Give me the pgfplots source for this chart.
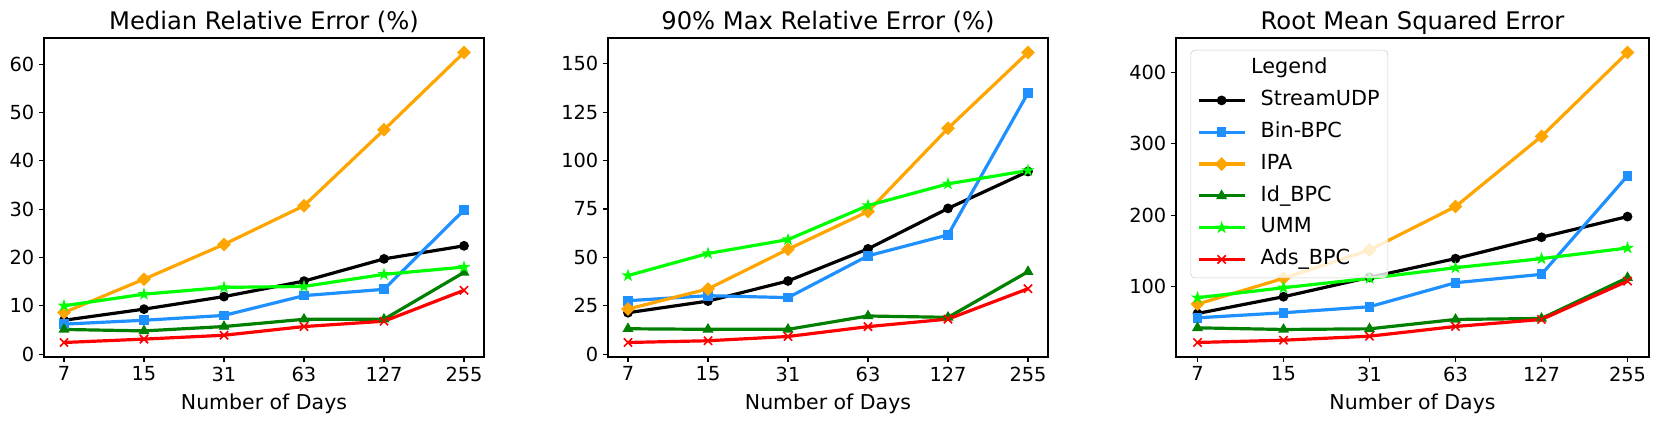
\documentclass[border=0pt]{standalone}
\usepackage{fontspec}
\setmainfont{DejaVu Sans}
\usepackage{pgfplots}
\pgfplotsset{compat=1.18}
\definecolor{cBin}{RGB}{30,144,255}
\definecolor{cIPA}{RGB}{255,165,0}
\definecolor{cId}{RGB}{0,128,0}
\definecolor{cUMM}{RGB}{0,255,0}
\definecolor{cAds}{RGB}{255,0,0}
\pgfdeclareplotmark{fstar}{%
  \pgfpathmoveto{\pgfqpointpolar{90}{\pgfplotmarksize}}%
  \pgfpathlineto{\pgfqpointpolar{126}{0.382\pgfplotmarksize}}%
  \pgfpathlineto{\pgfqpointpolar{162}{\pgfplotmarksize}}%
  \pgfpathlineto{\pgfqpointpolar{198}{0.382\pgfplotmarksize}}%
  \pgfpathlineto{\pgfqpointpolar{234}{\pgfplotmarksize}}%
  \pgfpathlineto{\pgfqpointpolar{270}{0.382\pgfplotmarksize}}%
  \pgfpathlineto{\pgfqpointpolar{306}{\pgfplotmarksize}}%
  \pgfpathlineto{\pgfqpointpolar{342}{0.382\pgfplotmarksize}}%
  \pgfpathlineto{\pgfqpointpolar{18}{\pgfplotmarksize}}%
  \pgfpathlineto{\pgfqpointpolar{54}{0.382\pgfplotmarksize}}%
  \pgfpathclose
  \pgfusepathqfillstroke
}
\pgfplotsset{
  myaxis/.style={
    width=4.4in, height=3.19in, scale only axis,
    xmin=-0.25, xmax=5.25,
    xtick={0,1,2,3,4,5}, xticklabels={7,15,31,63,127,255},
    tick align=outside, xtick pos=left, ytick pos=left,
    axis line style={line width=0.8bp, black},
    major tick length=3.5bp,
    every tick/.style={black, line width=0.8bp},
    ticklabel style={font=\fontsize{14}{16.8}\selectfont},
    /pgf/number format/assume math mode=true,
    xlabel={Number of Days},
    label style={font=\fontsize{14.8}{17.8}\selectfont},
    x label style={at={(axis description cs:0.5,0)}, anchor=base, yshift=-37.5bp},
    title style={font=\fontsize{17.5}{21}\selectfont, at={(axis description cs:0.5,1)}, anchor=base, yshift=0bp},
    scaled y ticks=false,
  },
  sUDP/.style={black, line width=2.3bp, mark=*, mark size=3bp, mark options={line width=1bp}},
  sBin/.style={cBin, line width=2.3bp, mark=square*, mark size=3bp, mark options={line width=1bp}},
  sIPA/.style={cIPA, line width=2.3bp, mark=square*, mark size=3bp, mark options={line width=1bp, rotate=45}},
  sId/.style={cId, line width=2.3bp, mark=triangle*, mark size=3.6bp, mark options={line width=1bp}},
  sUMM/.style={cUMM, line width=2.3bp, mark=fstar, mark size=3.3bp, mark options={line width=1bp}},
  sAds/.style={cAds, line width=2.3bp, mark=x, mark size=4.2bp, mark options={line width=1.2bp}},
}
\begin{document}
\begin{tikzpicture}
\path[use as bounding box, fill=white] (0,0) rectangle (16.61in,4.25in);
% Panel 1
\begin{axis}[myaxis, at={(0.44in,0.68in)}, anchor=south west,
  title={Median Relative Error (\%)},
  ymin=-0.6, ymax=65.4, ytick={0,10,20,30,40,50,60}]
\addplot[sUDP] coordinates {(0,7.0)(1,9.3)(2,11.9)(3,15.1)(4,19.7)(5,22.4)};
\addplot[sBin] coordinates {(0,6.2)(1,7.0)(2,8.0)(3,12.1)(4,13.4)(5,29.8)};
\addplot[sIPA] coordinates {(0,8.6)(1,15.5)(2,22.7)(3,30.7)(4,46.4)(5,62.4)};
\addplot[sId] coordinates {(0,5.1)(1,4.8)(2,5.7)(3,7.2)(4,7.2)(5,16.9)};
\addplot[sUMM] coordinates {(0,10.0)(1,12.4)(2,13.8)(3,14.0)(4,16.5)(5,18.0)};
\addplot[sAds] coordinates {(0,2.4)(1,3.1)(2,3.9)(3,5.7)(4,6.8)(5,13.2)};
\end{axis}
% Panel 2
\begin{axis}[myaxis, at={(6.08in,0.68in)}, anchor=south west,
  title={90\% Max Relative Error (\%)},
  ymin=-1.5, ymax=163.4, ytick={0,25,50,75,100,125,150}]
\addplot[sUDP] coordinates {(0,21.4)(1,27.4)(2,37.8)(3,54.4)(4,75.3)(5,94.4)};
\addplot[sBin] coordinates {(0,27.6)(1,30.2)(2,29.2)(3,50.8)(4,61.6)(5,135.0)};
\addplot[sIPA] coordinates {(0,23.3)(1,33.7)(2,54.2)(3,73.7)(4,116.7)(5,155.9)};
\addplot[sId] coordinates {(0,13.1)(1,12.8)(2,12.8)(3,19.7)(4,19.0)(5,42.6)};
\addplot[sUMM] coordinates {(0,40.6)(1,52.0)(2,59.2)(3,76.8)(4,88.0)(5,94.9)};
\addplot[sAds] coordinates {(0,6.0)(1,6.9)(2,9.1)(3,14.2)(4,18.1)(5,33.8)};
\end{axis}
% Panel 3
\begin{axis}[myaxis, width=4.73in, at={(11.76in,0.68in)}, anchor=south west,
  title={Root Mean Squared Error},
  ymin=1.7, ymax=447.9, ytick={100,200,300,400},
  legend style={at={(axis description cs:0,1)}, anchor=north west, xshift=10.5bp, yshift=-8.6bp,
    draw=black!20, fill=white, fill opacity=0.8, draw opacity=1, text opacity=1,
    rounded corners=3bp, font=\fontsize{15}{18}\selectfont, row sep=5.4bp, column sep=9bp, inner sep=4.5bp,
    nodes={inner sep=1.5bp, text height=11bp, text depth=3.5bp},
    label={[anchor=north, yshift=-4.5bp, inner sep=1.5bp, text height=11bp, text depth=3.5bp, font=\fontsize{15}{18}\selectfont, text opacity=1, fill opacity=1]north:Legend}},
  legend cell align=left,
  legend image code/.code={\draw[sharp corners, fill opacity=1, draw opacity=1, mark repeat=2, mark phase=2, #1] plot coordinates {(0bp,0bp)(16.5bp,0bp)(33bp,0bp)};}]
\addlegendimage{empty legend}
\addlegendentry{}
\addplot[sUDP] coordinates {(0,62.6)(1,86.0)(2,113.1)(3,139.3)(4,169.2)(5,198.1)};
\addlegendentry{StreamUDP}
\addplot[sBin] coordinates {(0,56.5)(1,63.6)(2,72.0)(3,105.6)(4,117.3)(5,255.1)};
\addlegendentry{Bin-BPC}
\addplot[sIPA] coordinates {(0,75.7)(1,111.7)(2,151.4)(3,212.1)(4,310.3)(5,427.6)};
\addlegendentry{IPA}
\addplot[sId] coordinates {(0,42.5)(1,40.2)(2,41.1)(3,54.2)(4,55.6)(5,112.6)};
\addlegendentry{Id\_BPC}
\addplot[sUMM] coordinates {(0,84.6)(1,98.6)(2,111.7)(3,126.6)(4,139.3)(5,154.2)};
\addlegendentry{UMM}
\addplot[sAds] coordinates {(0,22.0)(1,25.2)(2,30.8)(3,44.4)(4,54.2)(5,107.9)};
\addlegendentry{Ads\_BPC}
\end{axis}
\end{tikzpicture}
\end{document}
